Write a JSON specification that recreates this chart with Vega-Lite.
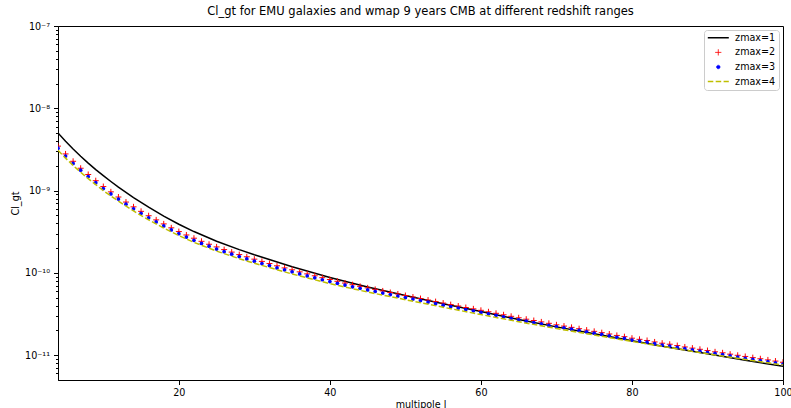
{
  "$schema": "https://vega.github.io/schema/vega-lite/v6.json",
  "width": 725,
  "height": 354,
  "autosize": {"type": "none"},
  "padding": {"left": 58, "top": 26, "right": 8, "bottom": 28},
  "background": "white",
  "title": {"text": "Cl_gt for EMU galaxies and wmap 9 years CMB at different redshift ranges", "anchor": "middle", "offset": 4, "fontSize": 11.5, "font": "DejaVu Sans", "fontWeight": "normal", "color": "#000"},
  "config": {
    "font": "DejaVu Sans",
    "view": {"stroke": "#000", "strokeWidth": 1},
    "axis": {"domainColor": "#000", "tickColor": "#000", "labelColor": "#000", "titleColor": "#000", "labelFont": "DejaVu Sans", "titleFont": "DejaVu Sans", "labelFontSize": 9.6, "titleFontSize": 9.6, "titleFontWeight": "normal", "grid": false, "tickWidth": 1, "domainWidth": 1}
  },
  "data": {"values": [
    {"l":4,"s":"zmax=1","v":5.01e-9},{"l":5,"s":"zmax=1","v":3.98e-9},{"l":6,"s":"zmax=1","v":3.21e-9},{"l":7,"s":"zmax=1","v":2.62e-9},{"l":8,"s":"zmax=1","v":2.16e-9},{"l":9,"s":"zmax=1","v":1.80e-9},{"l":10,"s":"zmax=1","v":1.52e-9},{"l":11,"s":"zmax=1","v":1.29e-9},{"l":12,"s":"zmax=1","v":1.10e-9},{"l":14,"s":"zmax=1","v":8.22e-10},{"l":16,"s":"zmax=1","v":6.30e-10},{"l":18,"s":"zmax=1","v":4.91e-10},{"l":20,"s":"zmax=1","v":3.90e-10},{"l":22,"s":"zmax=1","v":3.18e-10},{"l":25,"s":"zmax=1","v":2.43e-10},{"l":28,"s":"zmax=1","v":1.92e-10},{"l":30,"s":"zmax=1","v":1.66e-10},{"l":35,"s":"zmax=1","v":1.19e-10},{"l":40,"s":"zmax=1","v":8.81e-11},{"l":45,"s":"zmax=1","v":6.76e-11},{"l":50,"s":"zmax=1","v":5.31e-11},{"l":55,"s":"zmax=1","v":4.22e-11},{"l":60,"s":"zmax=1","v":3.39e-11},{"l":65,"s":"zmax=1","v":2.72e-11},{"l":70,"s":"zmax=1","v":2.21e-11},{"l":75,"s":"zmax=1","v":1.82e-11},{"l":80,"s":"zmax=1","v":1.50e-11},{"l":85,"s":"zmax=1","v":1.24e-11},{"l":90,"s":"zmax=1","v":1.04e-11},{"l":95,"s":"zmax=1","v":8.71e-12},{"l":100,"s":"zmax=1","v":7.33e-12},

    {"l":4,"s":"zmax=2","v":3.47e-9},{"l":5,"s":"zmax=2","v":2.79e-9},{"l":6,"s":"zmax=2","v":2.27e-9},{"l":7,"s":"zmax=2","v":1.87e-9},{"l":8,"s":"zmax=2","v":1.57e-9},{"l":9,"s":"zmax=2","v":1.32e-9},{"l":10,"s":"zmax=2","v":1.12e-9},{"l":11,"s":"zmax=2","v":9.66e-10},{"l":12,"s":"zmax=2","v":8.36e-10},{"l":13,"s":"zmax=2","v":7.26e-10},{"l":14,"s":"zmax=2","v":6.35e-10},{"l":15,"s":"zmax=2","v":5.60e-10},{"l":16,"s":"zmax=2","v":4.95e-10},{"l":17,"s":"zmax=2","v":4.41e-10},{"l":18,"s":"zmax=2","v":3.94e-10},{"l":19,"s":"zmax=2","v":3.53e-10},{"l":20,"s":"zmax=2","v":3.18e-10},{"l":21,"s":"zmax=2","v":2.89e-10},{"l":22,"s":"zmax=2","v":2.64e-10},{"l":23,"s":"zmax=2","v":2.42e-10},{"l":24,"s":"zmax=2","v":2.23e-10},{"l":25,"s":"zmax=2","v":2.07e-10},{"l":26,"s":"zmax=2","v":1.92e-10},{"l":27,"s":"zmax=2","v":1.79e-10},{"l":28,"s":"zmax=2","v":1.67e-10},{"l":29,"s":"zmax=2","v":1.57e-10},{"l":30,"s":"zmax=2","v":1.47e-10},{"l":31,"s":"zmax=2","v":1.38e-10},{"l":32,"s":"zmax=2","v":1.30e-10},{"l":33,"s":"zmax=2","v":1.22e-10},{"l":34,"s":"zmax=2","v":1.15e-10},{"l":35,"s":"zmax=2","v":1.09e-10},{"l":36,"s":"zmax=2","v":1.03e-10},{"l":37,"s":"zmax=2","v":9.73e-11},{"l":38,"s":"zmax=2","v":9.23e-11},{"l":39,"s":"zmax=2","v":8.75e-11},{"l":40,"s":"zmax=2","v":8.32e-11},{"l":41,"s":"zmax=2","v":7.91e-11},{"l":42,"s":"zmax=2","v":7.53e-11},{"l":43,"s":"zmax=2","v":7.19e-11},{"l":44,"s":"zmax=2","v":6.87e-11},{"l":45,"s":"zmax=2","v":6.58e-11},{"l":46,"s":"zmax=2","v":6.30e-11},{"l":47,"s":"zmax=2","v":6.04e-11},{"l":48,"s":"zmax=2","v":5.78e-11},{"l":49,"s":"zmax=2","v":5.55e-11},{"l":50,"s":"zmax=2","v":5.31e-11},{"l":51,"s":"zmax=2","v":5.09e-11},{"l":52,"s":"zmax=2","v":4.88e-11},{"l":53,"s":"zmax=2","v":4.68e-11},{"l":54,"s":"zmax=2","v":4.48e-11},{"l":55,"s":"zmax=2","v":4.30e-11},{"l":56,"s":"zmax=2","v":4.12e-11},{"l":57,"s":"zmax=2","v":3.96e-11},{"l":58,"s":"zmax=2","v":3.80e-11},{"l":59,"s":"zmax=2","v":3.66e-11},{"l":60,"s":"zmax=2","v":3.51e-11},{"l":61,"s":"zmax=2","v":3.37e-11},{"l":62,"s":"zmax=2","v":3.23e-11},{"l":63,"s":"zmax=2","v":3.10e-11},{"l":64,"s":"zmax=2","v":2.97e-11},{"l":65,"s":"zmax=2","v":2.85e-11},{"l":66,"s":"zmax=2","v":2.74e-11},{"l":67,"s":"zmax=2","v":2.64e-11},{"l":68,"s":"zmax=2","v":2.54e-11},{"l":69,"s":"zmax=2","v":2.44e-11},{"l":70,"s":"zmax=2","v":2.34e-11},{"l":71,"s":"zmax=2","v":2.26e-11},{"l":72,"s":"zmax=2","v":2.18e-11},{"l":73,"s":"zmax=2","v":2.10e-11},{"l":74,"s":"zmax=2","v":2.02e-11},{"l":75,"s":"zmax=2","v":1.95e-11},{"l":76,"s":"zmax=2","v":1.88e-11},{"l":77,"s":"zmax=2","v":1.81e-11},{"l":78,"s":"zmax=2","v":1.74e-11},{"l":79,"s":"zmax=2","v":1.68e-11},{"l":80,"s":"zmax=2","v":1.61e-11},{"l":81,"s":"zmax=2","v":1.56e-11},{"l":82,"s":"zmax=2","v":1.51e-11},{"l":83,"s":"zmax=2","v":1.45e-11},{"l":84,"s":"zmax=2","v":1.40e-11},{"l":85,"s":"zmax=2","v":1.36e-11},{"l":86,"s":"zmax=2","v":1.31e-11},{"l":87,"s":"zmax=2","v":1.26e-11},{"l":88,"s":"zmax=2","v":1.22e-11},{"l":89,"s":"zmax=2","v":1.18e-11},{"l":90,"s":"zmax=2","v":1.14e-11},{"l":91,"s":"zmax=2","v":1.10e-11},{"l":92,"s":"zmax=2","v":1.07e-11},{"l":93,"s":"zmax=2","v":1.03e-11},{"l":94,"s":"zmax=2","v":9.98e-12},{"l":95,"s":"zmax=2","v":9.66e-12},{"l":96,"s":"zmax=2","v":9.35e-12},{"l":97,"s":"zmax=2","v":9.06e-12},{"l":98,"s":"zmax=2","v":8.77e-12},{"l":99,"s":"zmax=2","v":8.49e-12},{"l":100,"s":"zmax=2","v":8.22e-12},

    {"l":4,"s":"zmax=3","v":3.28e-9},{"l":5,"s":"zmax=3","v":2.63e-9},{"l":6,"s":"zmax=3","v":2.14e-9},{"l":7,"s":"zmax=3","v":1.77e-9},{"l":8,"s":"zmax=3","v":1.48e-9},{"l":9,"s":"zmax=3","v":1.25e-9},{"l":10,"s":"zmax=3","v":1.06e-9},{"l":11,"s":"zmax=3","v":9.12e-10},{"l":12,"s":"zmax=3","v":7.89e-10},{"l":13,"s":"zmax=3","v":6.85e-10},{"l":14,"s":"zmax=3","v":6.00e-10},{"l":15,"s":"zmax=3","v":5.29e-10},{"l":16,"s":"zmax=3","v":4.67e-10},{"l":17,"s":"zmax=3","v":4.16e-10},{"l":18,"s":"zmax=3","v":3.72e-10},{"l":19,"s":"zmax=3","v":3.33e-10},{"l":20,"s":"zmax=3","v":3.00e-10},{"l":21,"s":"zmax=3","v":2.73e-10},{"l":22,"s":"zmax=3","v":2.49e-10},{"l":23,"s":"zmax=3","v":2.28e-10},{"l":24,"s":"zmax=3","v":2.11e-10},{"l":25,"s":"zmax=3","v":1.95e-10},{"l":26,"s":"zmax=3","v":1.81e-10},{"l":27,"s":"zmax=3","v":1.69e-10},{"l":28,"s":"zmax=3","v":1.58e-10},{"l":29,"s":"zmax=3","v":1.48e-10},{"l":30,"s":"zmax=3","v":1.39e-10},{"l":31,"s":"zmax=3","v":1.30e-10},{"l":32,"s":"zmax=3","v":1.23e-10},{"l":33,"s":"zmax=3","v":1.15e-10},{"l":34,"s":"zmax=3","v":1.09e-10},{"l":35,"s":"zmax=3","v":1.03e-10},{"l":36,"s":"zmax=3","v":9.72e-11},{"l":37,"s":"zmax=3","v":9.19e-11},{"l":38,"s":"zmax=3","v":8.71e-11},{"l":39,"s":"zmax=3","v":8.26e-11},{"l":40,"s":"zmax=3","v":7.85e-11},{"l":41,"s":"zmax=3","v":7.47e-11},{"l":42,"s":"zmax=3","v":7.11e-11},{"l":43,"s":"zmax=3","v":6.79e-11},{"l":44,"s":"zmax=3","v":6.49e-11},{"l":45,"s":"zmax=3","v":6.21e-11},{"l":46,"s":"zmax=3","v":5.95e-11},{"l":47,"s":"zmax=3","v":5.70e-11},{"l":48,"s":"zmax=3","v":5.46e-11},{"l":49,"s":"zmax=3","v":5.24e-11},{"l":50,"s":"zmax=3","v":5.01e-11},{"l":51,"s":"zmax=3","v":4.81e-11},{"l":52,"s":"zmax=3","v":4.61e-11},{"l":53,"s":"zmax=3","v":4.42e-11},{"l":54,"s":"zmax=3","v":4.23e-11},{"l":55,"s":"zmax=3","v":4.06e-11},{"l":56,"s":"zmax=3","v":3.89e-11},{"l":57,"s":"zmax=3","v":3.74e-11},{"l":58,"s":"zmax=3","v":3.59e-11},{"l":59,"s":"zmax=3","v":3.46e-11},{"l":60,"s":"zmax=3","v":3.31e-11},{"l":61,"s":"zmax=3","v":3.18e-11},{"l":62,"s":"zmax=3","v":3.05e-11},{"l":63,"s":"zmax=3","v":2.93e-11},{"l":64,"s":"zmax=3","v":2.80e-11},{"l":65,"s":"zmax=3","v":2.69e-11},{"l":66,"s":"zmax=3","v":2.59e-11},{"l":67,"s":"zmax=3","v":2.49e-11},{"l":68,"s":"zmax=3","v":2.40e-11},{"l":69,"s":"zmax=3","v":2.30e-11},{"l":70,"s":"zmax=3","v":2.22e-11},{"l":71,"s":"zmax=3","v":2.15e-11},{"l":72,"s":"zmax=3","v":2.07e-11},{"l":73,"s":"zmax=3","v":2.00e-11},{"l":74,"s":"zmax=3","v":1.92e-11},{"l":75,"s":"zmax=3","v":1.85e-11},{"l":76,"s":"zmax=3","v":1.79e-11},{"l":77,"s":"zmax=3","v":1.72e-11},{"l":78,"s":"zmax=3","v":1.65e-11},{"l":79,"s":"zmax=3","v":1.60e-11},{"l":80,"s":"zmax=3","v":1.53e-11},{"l":81,"s":"zmax=3","v":1.48e-11},{"l":82,"s":"zmax=3","v":1.44e-11},{"l":83,"s":"zmax=3","v":1.38e-11},{"l":84,"s":"zmax=3","v":1.33e-11},{"l":85,"s":"zmax=3","v":1.29e-11},{"l":86,"s":"zmax=3","v":1.25e-11},{"l":87,"s":"zmax=3","v":1.20e-11},{"l":88,"s":"zmax=3","v":1.16e-11},{"l":89,"s":"zmax=3","v":1.12e-11},{"l":90,"s":"zmax=3","v":1.08e-11},{"l":91,"s":"zmax=3","v":1.05e-11},{"l":92,"s":"zmax=3","v":1.02e-11},{"l":93,"s":"zmax=3","v":9.79e-12},{"l":94,"s":"zmax=3","v":9.49e-12},{"l":95,"s":"zmax=3","v":9.18e-12},{"l":96,"s":"zmax=3","v":8.89e-12},{"l":97,"s":"zmax=3","v":8.61e-12},{"l":98,"s":"zmax=3","v":8.34e-12},{"l":99,"s":"zmax=3","v":8.07e-12},{"l":100,"s":"zmax=3","v":7.81e-12},

    {"l":4,"s":"zmax=4","v":3.09e-9},{"l":5,"s":"zmax=4","v":2.48e-9},{"l":6,"s":"zmax=4","v":2.02e-9},{"l":7,"s":"zmax=4","v":1.67e-9},{"l":8,"s":"zmax=4","v":1.40e-9},{"l":9,"s":"zmax=4","v":1.18e-9},{"l":10,"s":"zmax=4","v":1.00e-9},{"l":11,"s":"zmax=4","v":8.61e-10},{"l":12,"s":"zmax=4","v":7.45e-10},{"l":14,"s":"zmax=4","v":5.66e-10},{"l":16,"s":"zmax=4","v":4.41e-10},{"l":18,"s":"zmax=4","v":3.51e-10},{"l":20,"s":"zmax=4","v":2.84e-10},{"l":22,"s":"zmax=4","v":2.35e-10},{"l":25,"s":"zmax=4","v":1.84e-10},{"l":28,"s":"zmax=4","v":1.49e-10},{"l":30,"s":"zmax=4","v":1.31e-10},{"l":35,"s":"zmax=4","v":9.70e-11},{"l":40,"s":"zmax=4","v":7.41e-11},{"l":45,"s":"zmax=4","v":5.86e-11},{"l":50,"s":"zmax=4","v":4.73e-11},{"l":55,"s":"zmax=4","v":3.83e-11},{"l":60,"s":"zmax=4","v":3.12e-11},{"l":65,"s":"zmax=4","v":2.55e-11},{"l":70,"s":"zmax=4","v":2.11e-11},{"l":75,"s":"zmax=4","v":1.76e-11},{"l":80,"s":"zmax=4","v":1.47e-11},{"l":85,"s":"zmax=4","v":1.24e-11},{"l":90,"s":"zmax=4","v":1.04e-11},{"l":95,"s":"zmax=4","v":8.88e-12},{"l":100,"s":"zmax=4","v":7.59e-12}
  ]},
  "encoding": {
    "x": {"field": "l", "type": "quantitative", "title": "multipole l",
      "scale": {"domain": [4, 100], "nice": false, "zero": false},
      "axis": {"values": [20, 40, 60, 80, 100], "tickSize": 4.5, "labelPadding": 3, "titlePadding": 2, "labelFlush": false}},
    "y": {"field": "v", "type": "quantitative", "title": "Cl_gt",
      "scale": {"type": "log", "domain": [5e-12, 1e-7], "nice": false},
      "axis": {
        "values": [6e-12,7e-12,8e-12,9e-12,1e-11,2e-11,3e-11,4e-11,5e-11,6e-11,7e-11,8e-11,9e-11,1e-10,2e-10,3e-10,4e-10,5e-10,6e-10,7e-10,8e-10,9e-10,1e-9,2e-9,3e-9,4e-9,5e-9,6e-9,7e-9,8e-9,9e-9,1e-8,2e-8,3e-8,4e-8,5e-8,6e-8,7e-8,8e-8,9e-8,1e-7],
        "tickSize": {"condition": {"test": "abs(log(datum.value)/LN10 - round(log(datum.value)/LN10)) < 0.001", "value": 4.5}, "value": 2.5},
        "labelPadding": 4,
        "labelOverlap": false,
        "labelFlush": false,
        "titlePadding": 4,
        "labelExpr": "abs(log(datum.value)/LN10 - round(log(datum.value)/LN10)) > 0.001 ? '' : (round(log(datum.value)/LN10) == -7 ? '10⁻⁷' : round(log(datum.value)/LN10) == -8 ? '10⁻⁸' : round(log(datum.value)/LN10) == -9 ? '10⁻⁹' : round(log(datum.value)/LN10) == -10 ? '10⁻¹⁰' : '10⁻¹¹')"
      }},
    "color": {"field": "s", "type": "nominal",
      "scale": {"domain": ["zmax=1", "zmax=2", "zmax=3", "zmax=4"], "range": ["#000000", "#ff0000", "#0000ff", "#bfbf00"]},
      "legend": {
        "title": null, "orient": "none", "legendX": 646, "legendY": 4,
        "fillColor": "white", "strokeColor": "#cccccc", "cornerRadius": 3, "padding": 3,
        "labelFont": "DejaVu Sans", "labelFontSize": 9.6, "labelColor": "#000",
        "symbolSize": 64, "symbolOffset": 6.5, "labelOffset": 12, "rowPadding": 3.6,
        "encode": {"symbols": {"update": {
          "shape": {"signal": "datum.value == 'zmax=2' ? 'M-0.75,0L0.75,0M0,-0.75L0,0.75' : datum.value == 'zmax=3' ? 'M-0.45,0A0.45,0.45,0,1,0,0.45,0A0.45,0.45,0,1,0,-0.45,0Z' : 'M-2.625,0L2.625,0'"},
          "size": {"value": 64},
          "fill": {"signal": "datum.value == 'zmax=3' ? '#0000ff' : 'transparent'"},
          "stroke": {"scale": "color", "field": "value"},
          "strokeWidth": {"signal": "datum.value == 'zmax=2' ? 1 : datum.value == 'zmax=3' ? 0.5 : 1.5"},
          "strokeDash": {"signal": "datum.value == 'zmax=4' ? [5.5, 2.4] : [1, 0]"},
          "opacity": {"value": 1}
        }}}
      }}
  },
  "layer": [
    {"transform": [{"filter": "datum.s == 'zmax=1'"}], "mark": {"type": "line", "strokeWidth": 1.5, "clip": true}},
    {"transform": [{"filter": "datum.s == 'zmax=2'"}], "mark": {"type": "point", "shape": "M-1,0L1,0M0,-1L0,1", "size": 36, "filled": false, "strokeWidth": 1, "opacity": 1, "clip": true}},
    {"transform": [{"filter": "datum.s == 'zmax=3'"}], "mark": {"type": "point", "shape": "circle", "size": 14, "filled": true, "opacity": 1, "clip": true}},
    {"transform": [{"filter": "datum.s == 'zmax=4'"}], "mark": {"type": "line", "strokeWidth": 1.5, "strokeDash": [5.5, 2.4], "clip": true}}
  ]
}
